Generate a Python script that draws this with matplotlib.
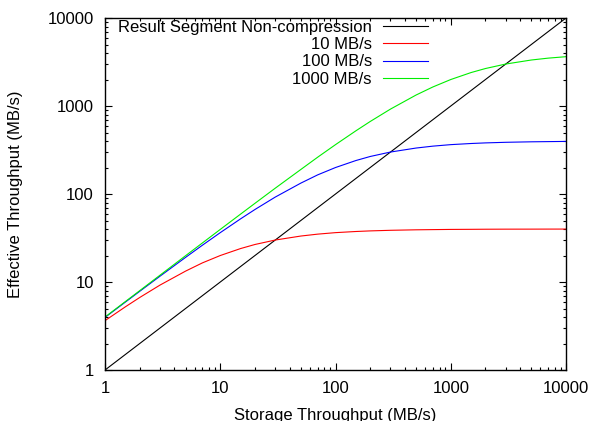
import matplotlib
matplotlib.use("Agg")
import matplotlib.pyplot as plt
from matplotlib.ticker import LogLocator, NullFormatter, FixedLocator, FixedFormatter

plt.rcParams['font.family'] = ['Liberation Sans', 'DejaVu Sans']

# storage throughput (MB/s) sample points
storage = [1, 1.5, 2, 3, 5, 7, 10, 15, 20, 30, 50, 70, 100, 150, 200, 300,
           500, 700, 1000, 1500, 2000, 3000, 5000, 7000, 10000]

# effective throughput
eff_10 = [3.64, 5.22, 6.67, 9.23, 13.3, 16.5, 20, 24, 26.7, 30, 33.3, 35, 36.4,
          37.5, 38.1, 38.7, 39.2, 39.4, 39.6, 39.7, 39.8, 39.87, 39.9, 39.94, 39.96]
eff_100 = [3.96, 5.91, 7.84, 11.65, 19.05, 26.2, 36.4, 52.2, 66.7, 92.3, 133, 165,
           200, 240, 267, 300, 333, 350, 364, 375, 381, 387, 392, 394, 396]
eff_1000 = [4.0, 5.99, 7.98, 11.96, 19.9, 27.8, 39.6, 59.1, 78.4, 116.5, 190, 262,
            364, 522, 667, 923, 1333, 1647, 2000, 2400, 2667, 3000, 3333, 3500, 3636]

# non-compressed: effective == storage
nocomp_x = [1, 10000]
nocomp_y = [1, 10000]

tick_vals = [1, 10, 100, 1000, 10000]
tick_labels = ['1', '10', '100', '1000', '10000']

fig = plt.figure(figsize=(5.91, 4.21), dpi=100)
ax = fig.add_axes([0.1777, 0.1211, 0.78, 0.8361])

ax.plot(nocomp_x, nocomp_y, color='black', lw=0.8, label='Result Segment Non-compression')
ax.plot(storage, eff_10, color='#ff0000', lw=0.8, label='10 MB/s')
ax.plot(storage, eff_100, color='#0000ff', lw=0.8, label='100 MB/s')
ax.plot(storage, eff_1000, color='#00ee00', lw=0.8, label='1000 MB/s')

ax.set_xscale('log')
ax.set_yscale('log')
ax.set_xlim(1, 10000)
ax.set_ylim(1, 10000)

for axis in (ax.xaxis, ax.yaxis):
    axis.set_major_locator(FixedLocator(tick_vals))
    axis.set_major_formatter(FixedFormatter(tick_labels))
    axis.set_minor_locator(LogLocator(base=10, subs=range(2, 10)))
    axis.set_minor_formatter(NullFormatter())

ax.tick_params(which='both', direction='in', top=True, right=True, width=0.8, labelsize=12)
ax.tick_params(which='major', length=5, pad=8)
ax.tick_params(which='minor', length=2.5)
for s in ax.spines.values():
    s.set_linewidth(1.0)

ax.set_xlabel('Storage Throughput (MB/s)', fontsize=12, labelpad=8.5)
ax.set_ylabel('Effective Throughput (MB/s)', fontsize=12, labelpad=17.5)

ax.legend(loc='upper right', frameon=False, markerfirst=False, fontsize=12,
          handlelength=2.7, handletextpad=0.65, labelspacing=0.13,
          borderaxespad=0, borderpad=0, bbox_to_anchor=(0.70, 0.994))

fig.savefig('out.png', dpi=100)
